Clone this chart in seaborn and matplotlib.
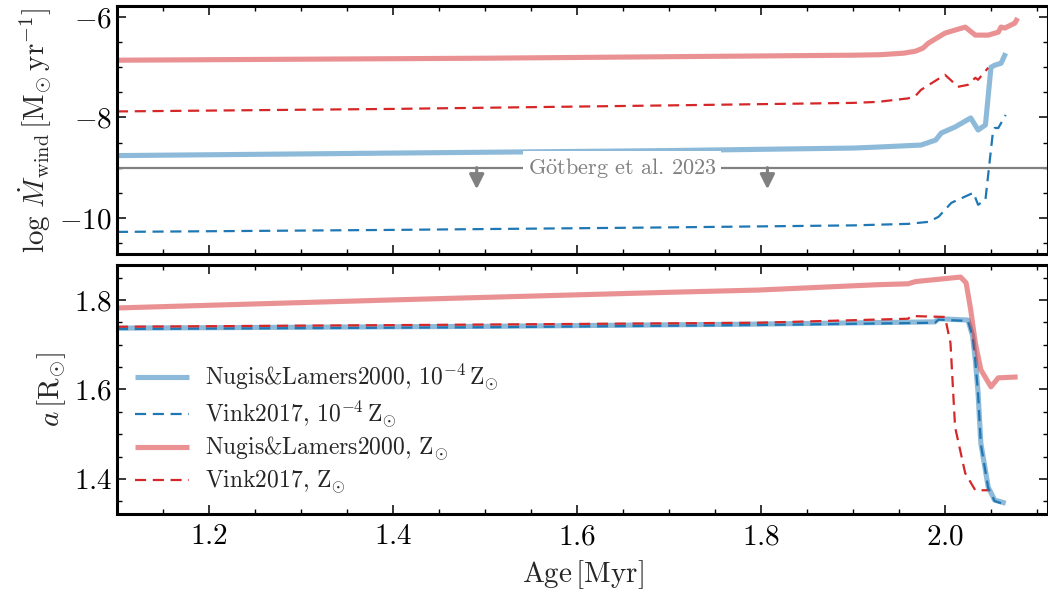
import matplotlib
matplotlib.use("Agg")
import matplotlib.pyplot as plt
import seaborn as sns
from matplotlib.ticker import MultipleLocator

# ---- mass-loss rate, log Mdot_wind [Msun/yr] ----
age_nl_sun_mdot = [1.10, 1.30, 1.50, 1.70, 1.90, 1.930, 1.955, 1.968, 1.976, 1.982,
                   2.000, 2.022, 2.033, 2.047, 2.058, 2.061, 2.065, 2.076, 2.079]
nl_sun_mdot = [-6.86, -6.84, -6.82, -6.79, -6.76, -6.75, -6.72, -6.68, -6.62, -6.52,
               -6.32, -6.20, -6.36, -6.36, -6.30, -6.20, -6.22, -6.12, -6.02]

age_vink_sun_mdot = [1.10, 1.40, 1.70, 1.90, 1.927, 1.960, 1.968, 1.974, 2.000, 2.006,
                     2.014, 2.025, 2.033, 2.036, 2.047]
vink_sun_mdot = [-7.88, -7.83, -7.76, -7.71, -7.69, -7.62, -7.57, -7.45, -7.15, -7.25,
                 -7.39, -7.35, -7.21, -7.25, -7.01]

age_nl_low_mdot = [1.10, 1.40, 1.70, 1.90, 1.927, 1.974, 1.990, 1.996, 2.011, 2.028,
                   2.036, 2.044, 2.050, 2.054, 2.061, 2.066]
nl_low_mdot = [-8.76, -8.71, -8.66, -8.61, -8.59, -8.55, -8.45, -8.31, -8.19, -8.01,
               -8.25, -8.15, -7.00, -6.96, -6.92, -6.72]

age_vink_low_mdot = [1.10, 1.40, 1.70, 1.90, 1.960, 1.982, 1.993, 2.007, 2.031, 2.036,
                     2.044, 2.052, 2.054, 2.058, 2.066]
vink_low_mdot = [-10.28, -10.24, -10.19, -10.15, -10.12, -10.08, -9.98, -9.70, -9.50, -9.74,
                 -9.64, -8.31, -8.21, -8.21, -7.95]

# ---- orbital separation a [Rsun] ----
age_nl_sun_a = [1.10, 1.40, 1.70, 1.797, 1.927, 1.960, 1.968, 2.017, 2.023, 2.028,
                2.033, 2.039, 2.050, 2.058, 2.079]
nl_sun_a = [1.782, 1.800, 1.817, 1.822, 1.834, 1.836, 1.841, 1.851, 1.838, 1.778,
            1.704, 1.644, 1.606, 1.626, 1.628]

age_vink_sun_a = [1.10, 1.50, 1.797, 1.960, 1.963, 2.000, 2.006, 2.011, 2.022, 2.033, 2.047]
vink_sun_a = [1.740, 1.745, 1.749, 1.758, 1.764, 1.762, 1.704, 1.516, 1.413, 1.375, 1.375]

age_nl_low_a = [1.10, 1.50, 1.797, 1.989, 1.993, 2.025, 2.030, 2.033, 2.036, 2.039,
                2.047, 2.054, 2.066]
nl_low_a = [1.737, 1.741, 1.746, 1.751, 1.758, 1.755, 1.720, 1.666, 1.592, 1.480,
            1.382, 1.353, 1.346]

age_vink_low_a = [1.10, 1.50, 1.797, 1.989, 1.993, 2.025, 2.030, 2.033, 2.036, 2.039,
                  2.047, 2.054, 2.064]
vink_low_a = [1.735, 1.739, 1.744, 1.749, 1.756, 1.753, 1.718, 1.664, 1.590, 1.478,
              1.380, 1.351, 1.344]

# Götberg et al. 2023 upper limit and arrow positions
gotberg_level = -9.0
gotberg_arrow_ages = [1.491, 1.807]

labels = [r"Nugis&Lamers2000, $10^{-4}\,\mathrm{Z}_{\odot}$",
          r"Vink2017, $10^{-4}\,\mathrm{Z}_{\odot}$",
          r"Nugis&Lamers2000, $\mathrm{Z}_{\odot}$",
          r"Vink2017, $\mathrm{Z}_{\odot}$"]

sns.set_theme(style="ticks")
plt.rcParams.update({
    "font.family": "serif",
    "font.serif": ["cmr10"],
    "mathtext.fontset": "cm",
    "axes.formatter.use_mathtext": True,
    "axes.edgecolor": "black",
    "axes.linewidth": 2.2,
    "xtick.color": "black",
    "ytick.color": "black",
    "xtick.direction": "in",
    "ytick.direction": "in",
    "xtick.top": True,
    "ytick.right": True,
    "xtick.major.size": 6.5,
    "ytick.major.size": 6.5,
    "xtick.minor.size": 3.3,
    "ytick.minor.size": 3.3,
    "xtick.major.width": 1.1,
    "ytick.major.width": 1.1,
    "xtick.minor.width": 1.0,
    "ytick.minor.width": 1.0,
    "xtick.major.pad": 7,
    "xtick.labelsize": 21,
    "ytick.labelsize": 21,
    "axes.labelsize": 21,
})

fig = plt.figure(figsize=(10.48, 5.94), dpi=100)
ax_top = fig.add_axes([0.1116, 0.5724, 0.8884, 0.4175])
ax_bot = fig.add_axes([0.1116, 0.1347, 0.8884, 0.4192], sharex=ax_top)

blue, red = "#1f77b4", "#d62728"
solid_kw = dict(linewidth=3.7, alpha=0.5, solid_capstyle="butt")
dash_kw = dict(linewidth=1.6, linestyle=(0, (5, 3)))

def draw(ax, x, y, color, kw, label=None):
    sns.lineplot(x=x, y=y, ax=ax, color=color, sort=False, estimator=None,
                 label=label, legend=False, **kw)

# top panel: wind mass-loss rate
draw(ax_top, age_nl_low_mdot, nl_low_mdot, blue, solid_kw)
draw(ax_top, age_vink_low_mdot, vink_low_mdot, blue, dash_kw)
draw(ax_top, age_nl_sun_mdot, nl_sun_mdot, red, solid_kw)
draw(ax_top, age_vink_sun_mdot, vink_sun_mdot, red, dash_kw)

ax_top.axhline(gotberg_level, color="gray", lw=1.6, zorder=1)
ax_top.text(1.649, gotberg_level, r"G$\mathrm{\ddot{o}}$tberg et al. 2023",
            color="gray", fontsize=16, ha="center", va="center", zorder=2,
            bbox=dict(facecolor="white", edgecolor="none", pad=3))
for xa in gotberg_arrow_ages:
    ax_top.annotate("", xy=(xa, gotberg_level - 0.43), xytext=(xa, gotberg_level),
                    arrowprops=dict(arrowstyle="-|>", color="gray", lw=2.2,
                                    mutation_scale=22, shrinkA=0, shrinkB=0),
                    zorder=2)

# bottom panel: orbital separation
draw(ax_bot, age_nl_low_a, nl_low_a, blue, solid_kw, labels[0])
draw(ax_bot, age_vink_low_a, vink_low_a, blue, dash_kw, labels[1])
draw(ax_bot, age_nl_sun_a, nl_sun_a, red, solid_kw, labels[2])
draw(ax_bot, age_vink_sun_a, vink_sun_a, red, dash_kw, labels[3])

ax_top.set_xlim(1.1, 2.112)
ax_top.set_ylim(-10.72, -5.78)
ax_bot.set_ylim(1.322, 1.878)

ax_top.xaxis.set_major_locator(MultipleLocator(0.2))
ax_top.xaxis.set_minor_locator(MultipleLocator(0.05))
ax_top.yaxis.set_major_locator(MultipleLocator(2))
ax_top.yaxis.set_minor_locator(MultipleLocator(0.5))
ax_bot.yaxis.set_major_locator(MultipleLocator(0.2))
ax_bot.yaxis.set_minor_locator(MultipleLocator(0.05))
for ax in (ax_top, ax_bot):
    ax.tick_params(which="both", top=True, right=True, direction="in")
ax_top.tick_params(labelbottom=False)

ax_top.set_ylabel(r"$\log\,\dot{M}_{\rm wind}\,[\mathrm{M}_{\odot}\,\mathrm{yr}^{-1}]$")
ax_bot.set_ylabel(r"$a\,[\mathrm{R}_{\odot}]$")
ax_bot.set_xlabel(r"$\mathrm{Age}\,[\mathrm{Myr}]$", labelpad=6)
ax_top.set_xlabel("")

handles, labs = ax_bot.get_legend_handles_labels()
ax_bot.legend(handles, labs, loc="center left", bbox_to_anchor=(0.019, 0.34),
              frameon=False, fontsize=17, borderpad=0, borderaxespad=0,
              handlelength=2.3, handletextpad=0.7, labelspacing=0.22)

fig.savefig("out.png", dpi=100)
